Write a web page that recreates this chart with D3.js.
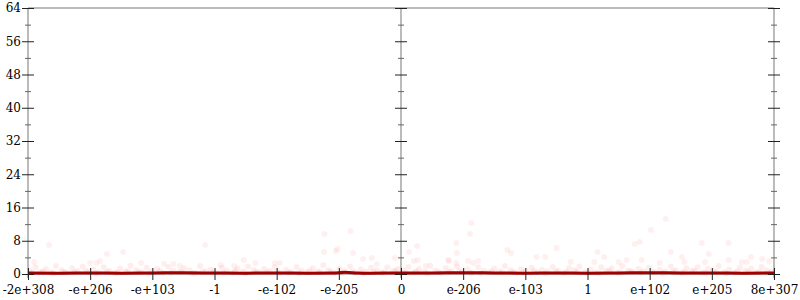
<!DOCTYPE html>
<html>
<head>
<meta charset="utf-8">
<script src="https://cdn.jsdelivr.net/npm/d3@7"></script>
<style>
  html, body { margin: 0; padding: 0; background: #fff; }
  svg { display: block; }
  text { font-family: "DejaVu Serif", serif; font-size: 12px; fill: #000; }
</style>
</head>
<body>
<svg id="chart" width="800" height="300"></svg>
<script>
// ---- data ----
// x positions are in tick-index units of the float-bits scale (-6 .. 6)
const xTickPos = [-6, -5, -4, -3, -2, -1, 0, 1, 2, 3, 4, 5, 6];
const xTickLabels = ["-2e+308", "-e+206", "-e+103", "-1", "-e-102", "-e-205", "0",
                     "e-206", "e-103", "1", "e+102", "e+205", "8e+307"];
const yMajorTicks = [0, 8, 16, 24, 32, 40, 48, 56, 64];
const yMinorTicks = [4, 12, 20, 28, 36, 44, 52, 60];

// scattered outlier samples
const outlierPos = [-5.66,-5.90,-5.00,-4.90,-4.84,-4.73,-4.47,-4.18,-3.81,-3.66,-3.56,-3.15,-2.90,-2.68,-2.53,-2.34,-2.03,-1.95,
  -1.23,-0.81,-1.24,-1.05,-1.02,-0.77,-0.61,-0.47,-0.39,-0.10,0.13,0.26,0.27,0.21,0.40,0.76,0.77,0.89,0.90,0.89,1.08,1.11,1.13,
  1.16,1.24,1.71,1.77,2.18,2.32,2.50,2.73,3.11,3.16,3.27,3.50,3.63,3.76,3.84,3.87,4.02,4.16,4.26,4.34,4.52,4.56,4.84,4.89,4.95,
  5.27,5.27,5.48,5.56,5.63,5.81,5.92];
const outlierVal = [6.98,2.89,2.65,2.65,3.13,4.81,5.29,2.65,2.41,2.41,1.92,6.98,2.17,1.92,3.37,2.65,2.65,2.65,
  9.62,10.35,5.29,5.53,6.02,5.05,3.61,3.85,2.41,3.85,5.29,6.74,3.37,3.13,1.92,3.37,3.13,7.46,5.05,2.65,3.13,9.62,12.27,
  2.65,3.13,5.77,5.05,4.09,4.09,6.26,2.89,2.89,5.29,4.09,2.89,3.37,7.22,7.70,3.37,10.59,2.65,13.23,5.29,4.09,2.89,7.46,2.89,4.81,
  7.46,3.37,2.89,2.89,4.09,3.61,3.13];

// dense band of samples near zero
const bandPos = [-5.97,-5.88,-5.80,-5.71,-5.63,-5.55,-5.46,-5.38,-5.29,-5.20,-5.12,-5.03,-4.95,-4.86,-4.78,-4.69,-4.60,-4.52,-4.43,-4.35,
  -4.26,-4.17,-4.09,-4.00,-3.92,-3.83,-3.74,-3.66,-3.57,-3.49,-3.40,-3.31,-3.23,-3.14,-3.06,-2.97,-2.88,-2.80,-2.71,-2.63,
  -2.54,-2.46,-2.37,-2.28,-2.20,-2.11,-2.03,-1.94,-1.85,-1.77,-1.68,-1.60,-1.51,-1.42,-1.34,-1.25,-1.17,-1.08,-0.99,-0.91,
  -0.82,-0.74,-0.65,-0.56,-0.48,-0.39,-0.31,-0.22,-0.13,-0.05,0.04,0.12,0.21,0.29,0.38,0.47,0.55,0.64,0.72,0.81,
  0.90,0.98,1.07,1.15,1.24,1.33,1.41,1.50,1.58,1.67,1.76,1.84,1.93,2.01,2.10,2.19,2.27,2.36,2.44,2.53,
  2.62,2.70,2.79,2.87,2.96,3.05,3.13,3.22,3.30,3.39,3.48,3.56,3.65,3.73,3.82,3.91,3.99,4.08,4.16,4.25,
  4.34,4.42,4.51,4.59,4.68,4.77,4.85,4.94,5.02,5.11,5.20,5.28,5.37,5.45,5.54,5.63,5.71,5.80,5.88,5.96];
const bandVal = [0.8,1.6,0.5,1.2,0.4,1.9,0.9,0.3,1.4,0.7,1.8,0.5,1.1,0.4,1.6,0.8,0.3,1.3,0.6,2.0,
  0.9,0.4,1.5,0.7,1.2,0.3,1.7,0.8,0.5,1.4,0.9,0.3,1.9,0.6,1.1,0.4,1.5,0.8,0.3,1.3,
  0.6,1.8,0.9,0.4,1.2,0.7,1.6,0.3,1.0,0.5,1.7,0.8,0.4,1.4,0.6,2.1,0.9,0.3,1.3,0.7,
  1.8,0.4,1.1,0.6,1.5,0.9,0.3,1.6,0.7,1.2,0.9,1.7,0.4,1.2,0.6,2.0,0.8,0.3,1.4,0.7,
  1.8,0.5,1.1,0.3,1.6,0.8,0.4,1.3,0.6,1.9,0.9,0.3,1.2,0.7,1.5,0.4,1.0,0.6,1.7,0.8,
  0.3,1.4,0.9,1.8,0.5,1.1,0.4,1.6,0.7,1.3,0.3,1.9,0.8,0.5,1.2,0.7,1.5,0.4,1.0,0.6,
  1.8,0.9,0.3,1.4,0.7,1.6,0.4,1.2,0.8,1.9,0.5,1.1,0.3,1.5,0.8,1.3,0.4,1.7,0.9,0.5];
const bandPos2 = [-5.93,-5.76,-5.59,-5.42,-5.25,-5.07,-4.91,-4.73,-4.56,-4.39,-4.22,-4.05,-3.88,-3.70,-3.53,-3.36,-3.19,-3.02,-2.85,-2.67,
  -2.50,-2.33,-2.16,-1.99,-1.81,-1.64,-1.47,-1.30,-1.13,-0.95,-0.78,-0.61,-0.44,-0.27,-0.09,0.08,0.25,0.42,0.60,0.77,
  0.94,1.11,1.28,1.46,1.63,1.80,1.97,2.14,2.32,2.49,2.66,2.83,3.00,3.18,3.35,3.52,3.69,3.86,4.04,4.21,
  4.38,4.55,4.72,4.90,5.07,5.24,5.41,5.58,5.76,5.92];
const bandVal2 = [0.3,0.6,0.2,0.5,0.4,0.7,0.2,0.5,0.3,0.6,0.4,0.2,0.7,0.3,0.5,0.2,0.6,0.4,0.3,0.7,
  0.2,0.5,0.4,0.6,0.3,0.2,0.7,0.4,0.5,0.3,0.6,0.2,0.5,0.4,0.7,0.3,0.6,0.2,0.5,0.4,
  0.7,0.3,0.2,0.6,0.4,0.5,0.3,0.7,0.2,0.6,0.4,0.5,0.3,0.2,0.7,0.4,0.6,0.3,0.5,0.2,
  0.6,0.4,0.7,0.3,0.5,0.2,0.6,0.4,0.5,0.3];

// density (mean) line
const linePos = [-6,-5.5,-5,-4.5,-4,-3.5,-3,-2.5,-2,-1.5,-1.1,-0.9,-0.7,-0.5,0,0.5,1,1.5,2,2.5,3,3.5,4,4.5,5,5.5,6];
const lineVal = [0.25,0.2,0.25,0.2,0.25,0.3,0.25,0.2,0.25,0.2,0.25,0.4,0.25,0.2,0.25,0.25,0.3,0.25,0.2,0.25,0.2,0.25,0.3,0.25,0.25,0.2,0.25];

// ---- drawing ----
const svg = d3.select("#chart");
const x = d3.scaleLinear().domain([-6, 6]).range([28, 774]);
const y = d3.scaleLinear().domain([0, 64]).range([274, 8]);

const gray = "#bbbbbb";

// frame lines
svg.append("line").attr("x1", x(-6)).attr("x2", x(6)).attr("y1", y(64)).attr("y2", y(64))
  .attr("stroke", gray).attr("stroke-width", 2);
svg.append("line").attr("x1", x(-6)).attr("x2", x(6)).attr("y1", y(0)).attr("y2", y(0))
  .attr("stroke", gray).attr("stroke-width", 2);
[-6, 0, 6].forEach(p => {
  svg.append("line").attr("x1", x(p)).attr("x2", x(p)).attr("y1", y(64)).attr("y2", y(0) + 4)
    .attr("stroke", gray).attr("stroke-width", 2);
});

// points
const pts = svg.append("g");
function drawPts(ps, vs, op) {
  pts.selectAll(null).data(ps.map((p, i) => [p, vs[i]])).enter().append("circle")
    .attr("cx", d => x(d[0])).attr("cy", d => y(d[1])).attr("r", 3)
    .attr("fill", "#ff0000").attr("fill-opacity", op);
}
drawPts(bandPos, bandVal, 0.07);
drawPts(bandPos2, bandVal2, 0.07);
drawPts(outlierPos, outlierVal, 0.06);

// mean line
const line = d3.line().x((d, i) => x(linePos[i])).y(d => y(d)).curve(d3.curveMonotoneX);
svg.append("path").datum(lineVal).attr("d", line)
  .attr("fill", "none").attr("stroke", "#a00000").attr("stroke-width", 3);

// y axes (left labeled, middle and right without labels)
function yAxisAt(px, labels) {
  const gMaj = svg.append("g").attr("transform", `translate(${px},0)`)
    .call(d3.axisLeft(y).tickValues(yMajorTicks).tickSize(6).tickPadding(1)
      .tickFormat(labels ? d3.format("d") : () => ""));
  gMaj.select(".domain").remove();
  gMaj.selectAll(".tick line").attr("x1", -6).attr("x2", 6).attr("stroke", "#222");
  gMaj.selectAll(".tick text").attr("font-family", "DejaVu Serif").attr("font-size", 12).attr("fill", "#000");
  const gMin = svg.append("g").attr("transform", `translate(${px},0)`)
    .call(d3.axisLeft(y).tickValues(yMinorTicks).tickSize(3).tickFormat(() => ""));
  gMin.select(".domain").remove();
  gMin.selectAll(".tick line").attr("x1", -3).attr("x2", 3).attr("stroke", "#666");
}
yAxisAt(x(-6), true);
yAxisAt(x(0), false);
yAxisAt(x(6), false);

// x axis
const gx = svg.append("g").attr("transform", `translate(0,${y(0)})`)
  .call(d3.axisBottom(x).tickValues(xTickPos).tickSize(6).tickPadding(5)
    .tickFormat((d, i) => xTickLabels[i]));
gx.select(".domain").remove();
gx.selectAll(".tick line").attr("y1", -6).attr("y2", 6).attr("stroke", "#222");
gx.selectAll(".tick text").attr("font-family", "DejaVu Serif").attr("font-size", 12).attr("fill", "#000");
</script>
</body>
</html>
